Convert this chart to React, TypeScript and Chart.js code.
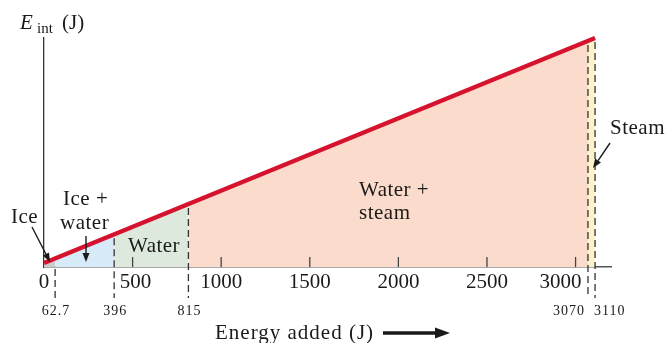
import React, { useEffect, useRef } from 'react';
import { Chart, registerables } from 'chart.js';

Chart.register(...registerables);

// Phase boundaries (energy added, J) and internal energy on the straight line
const energyAdded = [0, 62.7, 396, 815, 3070, 3110];
const internalEnergy = [55, 117.7, 451, 870, 3125, 3165];
const phaseNames = ['Ice', 'Ice + water', 'Water', 'Water + steam', 'Steam'];
const phaseColors = ['#cdcdcd', '#d7eaf8', '#dce9dc', '#fbdccc', '#fdf2c9'];
const xTickValues = [0, 500, 1000, 1500, 2000, 2500, 3000];
const boundaryLabels = ['62.7', '396', '815', '3070', '3110'];

// label nudges (pixels) so tick labels clear the dashed boundary lines
const tickLabelNudge: Record<number, number> = { 500: 3, 3000: -15 };

const SERIF = '"Liberation Serif", "Times New Roman", serif';
const TEXT = '#1a1a1a';

function arrow(ctx: CanvasRenderingContext2D, x1: number, y1: number, x2: number, y2: number, w: number, head: number, hw: number) {
  const ang = Math.atan2(y2 - y1, x2 - x1);
  const bx = x2 - Math.cos(ang) * head;
  const by = y2 - Math.sin(ang) * head;
  ctx.save();
  ctx.strokeStyle = TEXT;
  ctx.fillStyle = TEXT;
  ctx.lineWidth = w;
  ctx.setLineDash([]);
  ctx.beginPath();
  ctx.moveTo(x1, y1);
  ctx.lineTo(bx, by);
  ctx.stroke();
  ctx.beginPath();
  ctx.moveTo(x2, y2);
  ctx.lineTo(bx + Math.sin(ang) * hw, by - Math.cos(ang) * hw);
  ctx.lineTo(bx - Math.sin(ang) * hw, by + Math.cos(ang) * hw);
  ctx.closePath();
  ctx.fill();
  ctx.restore();
}

const overlay = {
  id: 'overlay',
  afterDatasetsDraw(chart: any) {
    const { ctx, scales } = chart;
    const x = scales.x;
    const y = scales.y;
    const axisY = y.getPixelForValue(0);
    ctx.save();

    // upward tick marks and tick labels
    ctx.strokeStyle = '#444';
    ctx.lineWidth = 1.3;
    ctx.fillStyle = TEXT;
    ctx.font = `21px ${SERIF}`;
    ctx.textAlign = 'center';
    ctx.textBaseline = 'middle';
    xTickValues.forEach((v) => {
      const px = x.getPixelForValue(v);
      if (v !== 0) {
        ctx.beginPath();
        ctx.moveTo(px, axisY);
        ctx.lineTo(px, axisY - 10);
        ctx.stroke();
      }
      ctx.fillText(String(v), px + (tickLabelNudge[v] || 0), axisY + 15);
    });

    // dashed phase boundaries
    ctx.setLineDash([7, 4]);
    ctx.strokeStyle = '#333';
    ctx.lineWidth = 1.3;
    for (let i = 1; i < energyAdded.length; i++) {
      const px = x.getPixelForValue(energyAdded[i]);
      const top = i === 1 ? axisY + 2 : y.getPixelForValue(internalEnergy[i]) + 4;
      ctx.beginPath();
      ctx.moveTo(px, top);
      ctx.lineTo(px, axisY + 31);
      ctx.stroke();
    }
    ctx.setLineDash([]);

    // boundary value labels
    ctx.font = `14px ${SERIF}`;
    (ctx as any).letterSpacing = '1px';
    ctx.textBaseline = 'middle';
    boundaryLabels.forEach((lab, i) => {
      const px = x.getPixelForValue(energyAdded[i + 1]);
      if (i === 3) {
        ctx.textAlign = 'right';
        ctx.fillText(lab, px - 3, axisY + 44);
      } else if (i === 4) {
        ctx.textAlign = 'left';
        ctx.fillText(lab, px - 1, axisY + 44);
      } else {
        ctx.textAlign = 'center';
        ctx.fillText(lab, px + 1, axisY + 44);
      }
    });

    // phase labels
    (ctx as any).letterSpacing = '0.5px';
    ctx.font = `21px ${SERIF}`;
    ctx.textAlign = 'left';
    ctx.textBaseline = 'middle';
    ctx.fillText(phaseNames[0], 11, 217);
    ctx.fillText('Ice +', 63, 199);
    ctx.fillText('water', 60, 223);
    ctx.fillText(phaseNames[2], 128, 246);
    ctx.fillText('Water +', 359, 190);
    ctx.fillText('steam', 359, 213);
    ctx.fillText(phaseNames[4], 610, 128);

    // axis titles
    (ctx as any).letterSpacing = '1px';
    ctx.fillText('Energy added (J)', 215, 333);
    arrow(ctx, 383, 333, 450, 333, 3.5, 15, 5.5);

    (ctx as any).letterSpacing = '0px';
    ctx.textBaseline = 'alphabetic';
    ctx.font = `italic 21px ${SERIF}`;
    ctx.fillText('E', 20, 29);
    ctx.font = `15px ${SERIF}`;
    ctx.fillText('int', 37, 33);
    ctx.font = `21px ${SERIF}`;
    ctx.fillText('(J)', 62, 29);

    // pointer arrows
    arrow(ctx, 32, 227, 50, 262, 1.4, 9, 3.5);
    arrow(ctx, 86, 236, 86, 262, 1.4, 9, 3.5);
    arrow(ctx, 610, 143, 593, 168, 1.4, 9, 3.5);

    ctx.restore();
  },
};

export default function App() {
  const ref = useRef<HTMLCanvasElement | null>(null);

  useEffect(() => {
    if (!ref.current) return;
    const fills = phaseNames.map((name, i) => ({
      label: name,
      data: [
        { x: energyAdded[i], y: internalEnergy[i] },
        { x: energyAdded[i + 1], y: internalEnergy[i + 1] },
      ],
      fill: 'origin',
      backgroundColor: phaseColors[i],
      borderWidth: 0,
      pointRadius: 0,
      tension: 0,
      order: 2,
    }));
    const chart = new Chart(ref.current, {
      type: 'line',
      data: {
        datasets: [
          {
            label: 'E_int',
            data: [
              { x: energyAdded[0], y: internalEnergy[0] },
              { x: energyAdded[5], y: internalEnergy[5] },
            ],
            borderColor: '#d6132f',
            borderWidth: 4.5,
            fill: false,
            pointRadius: 0,
            clip: false,
            order: 0,
          } as any,
          ...fills,
        ],
      },
      options: {
        animation: false,
        responsive: false,
        events: [],
        layout: { padding: { left: 44, right: 58, top: 38, bottom: 0 } },
        plugins: { legend: { display: false }, tooltip: { enabled: false } },
        scales: {
          x: {
            type: 'linear',
            min: 0,
            max: 3200,
            z: 1,
            afterFit: (s: any) => { s.height = 76; },
            afterBuildTicks: (s: any) => { s.ticks = xTickValues.map((v) => ({ value: v })); },
            grid: { display: false, drawTicks: false },
            border: { display: true, color: '#555', width: 1.5 },
            ticks: { display: false },
          },
          y: {
            type: 'linear',
            min: 0,
            max: 3165,
            z: 1,
            afterFit: (s: any) => { s.width = 0; },
            grid: { display: false, drawTicks: false },
            border: { display: true, color: '#333', width: 1.3 },
            ticks: { display: false },
          },
        },
      } as any,
      plugins: [overlay],
    });
    return () => chart.destroy();
  }, []);

  return (
    <div style={{ position: 'fixed', left: 0, top: 0, width: 669, height: 343, background: '#fff' }}>
      <canvas ref={ref} width={669} height={343} style={{ display: 'block' }} />
    </div>
  );
}
